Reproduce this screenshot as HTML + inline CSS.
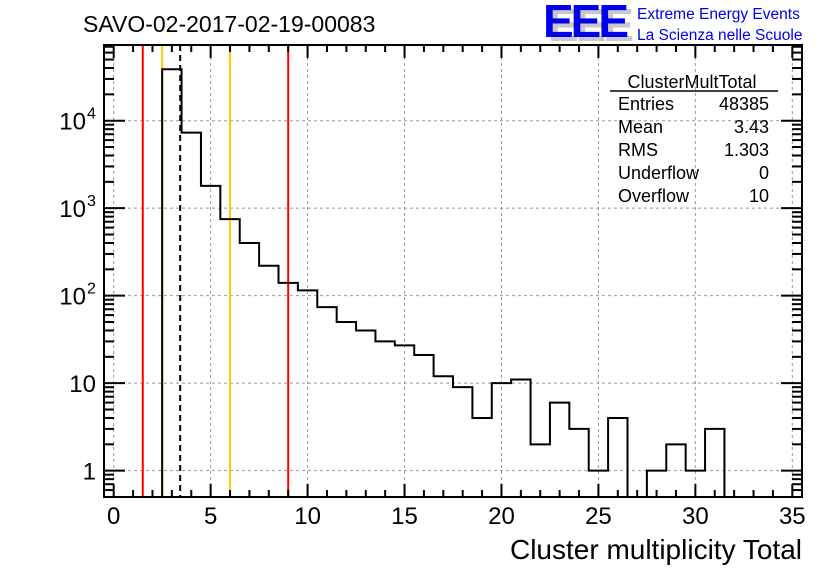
<!DOCTYPE html>
<html><head><meta charset="utf-8"><style>
body{margin:0;background:#fff;}
svg{display:block;font-family:"Liberation Sans",sans-serif;}
</style></head><body>
<svg id="c" width="836" height="572" viewBox="0 0 836 572">
<rect width="836" height="572" fill="#fff"/>
<text x="83" y="32" font-size="23" fill="#000">SAVO-02-2017-02-19-00083</text>
<g>
<text x="548" y="41" font-size="46" font-weight="bold" fill="#c8c8c8" letter-spacing="-3">EEE</text>
<text x="543" y="37" font-size="46" font-weight="bold" fill="#0000ee" letter-spacing="-3">EEE</text>
<text x="637" y="19" font-size="15.5" fill="#0000ee">Extreme Energy Events</text>
<text x="637" y="40" font-size="15.5" fill="#0000ee">La Scienza nelle Scuole</text>
</g>
<g id="grid"></g>
<g id="marks"></g>
<g id="axes"></g>
<g font-size="18" fill="#000">
<text x="692" y="88" text-anchor="middle">ClusterMultTotal</text>
<line x1="610" y1="91" x2="778" y2="91" stroke="#000" stroke-width="1.5"/>
<text x="618" y="110">Entries</text><text x="769" y="110" text-anchor="end">48385</text>
<text x="618" y="133">Mean</text><text x="769" y="133" text-anchor="end">3.43</text>
<text x="618" y="156">RMS</text><text x="769" y="156" text-anchor="end">1.303</text>
<text x="618" y="179">Underflow</text><text x="769" y="179" text-anchor="end">0</text>
<text x="618" y="202">Overflow</text><text x="769" y="202" text-anchor="end">10</text>
</g>
<text x="802" y="559" text-anchor="end" font-size="28">Cluster multiplicity Total</text>
</svg>
<script>
const binCenters=[3,4,5,6,7,8,9,10,11,12,13,14,15,16,17,18,19,20,21,22,23,24,25,26,27,28,29,30,31];
const counts=[38700,7300,1800,750,400,220,140,115,74,50,40,30,27,21,12,9,4,10,11,2,6,3,1,4,0,1,2,1,3];
const xTicks=[0,5,10,15,20,25,30,35];
const yTicks=[1,10,100,1000,10000];
const yTickExp=["","","2","3","4"];
const yTickBase=["1","10","10","10","10"];
const redLines=[1.5,9];
const yellowLines=[2.5,6];
const meanValue=3.43;

const L=104,R=802,T=45,B=497,XMIN=-0.5,XMAX=35.5,YMIN=0.5,YMAX=73300;
const NS="http://www.w3.org/2000/svg";
const sx=v=>L+(v-XMIN)/(XMAX-XMIN)*(R-L);
const sy=v=>B-(Math.log10(v)-Math.log10(YMIN))/(Math.log10(YMAX)-Math.log10(YMIN))*(B-T);
function mk(tag,at,parent){const e=document.createElementNS(NS,tag);for(const k in at)e.setAttribute(k,at[k]);parent.appendChild(e);return e;}
const grid=document.getElementById('grid'),marks=document.getElementById('marks'),axes=document.getElementById('axes');
xTicks.forEach(t=>{const g=mk('line',{x1:sx(t),x2:sx(t),y1:T,y2:B,stroke:'#999','stroke-dasharray':'3,3','stroke-width':1},grid);

});
yTicks.forEach(t=>{const g=mk('line',{x1:L,x2:R,y1:sy(t),y2:sy(t),stroke:'#999','stroke-dasharray':'3,3','stroke-width':1},grid);

});
let d='';let started=false;
binCenters.forEach((c,i)=>{const x0=sx(c-0.5),x1=sx(c+0.5);const v=counts[i];const y=v>0?sy(v):B;
if(!started){d+=`M${x0},${B} L${x0},${y}`;started=true;}else d+=` L${x0},${y}`;d+=` L${x1},${y}`;
if(i==binCenters.length-1)d+=` L${x1},${B}`;});
const h=mk('path',{d:d,fill:'none',stroke:'#000','stroke-width':2},marks);


redLines.forEach(v=>{const l=mk('line',{x1:sx(v),x2:sx(v),y1:T,y2:B,stroke:'#f00','stroke-width':2},marks);

});
yellowLines.forEach(v=>{const l=mk('line',{x1:sx(v),x2:sx(v),y1:T,y2:B,stroke:'#fc0','stroke-width':2},marks);

});
marks.appendChild(h);
const m=mk('line',{x1:sx(meanValue),x2:sx(meanValue),y1:T,y2:B,stroke:'#000','stroke-width':2,'stroke-dasharray':'6,4'},marks);


const f=mk('rect',{x:L,y:T,width:R-L,height:B-T,fill:'none',stroke:'#000','stroke-width':2},axes);


for(let v=0;v<=35;v++){const maj=v%5==0;const len=maj?13:7;
mk('line',{x1:sx(v),x2:sx(v),y1:B,y2:B-len,stroke:'#000','stroke-width':2},axes);
mk('line',{x1:sx(v),x2:sx(v),y1:T,y2:T+len,stroke:'#000','stroke-width':2},axes);}
xTicks.forEach(t=>{const tx=mk('text',{x:sx(t),y:524,'text-anchor':'middle','font-size':24},axes);tx.textContent=t;

});
for(let e=-1;e<5;e++)for(let k=1;k<10;k++){const v=k*Math.pow(10,e);if(v<YMIN||v>YMAX)continue;const len=k==1?21:10;
mk('line',{x1:L,x2:L+len,y1:sy(v),y2:sy(v),stroke:'#000','stroke-width':2},axes);
mk('line',{x1:R,x2:R-len,y1:sy(v),y2:sy(v),stroke:'#000','stroke-width':2},axes);}
yTicks.forEach((t,i)=>{const hasExp=yTickExp[i]!=='';
const tx=mk('text',{x:hasExp?86:96,y:sy(t)+9,'text-anchor':'end','font-size':24},axes);tx.textContent=yTickBase[i];


if(hasExp){const ex=mk('text',{x:87,y:sy(t)-2,'font-size':16},axes);ex.textContent=yTickExp[i];

}});
</script>
</body></html>
